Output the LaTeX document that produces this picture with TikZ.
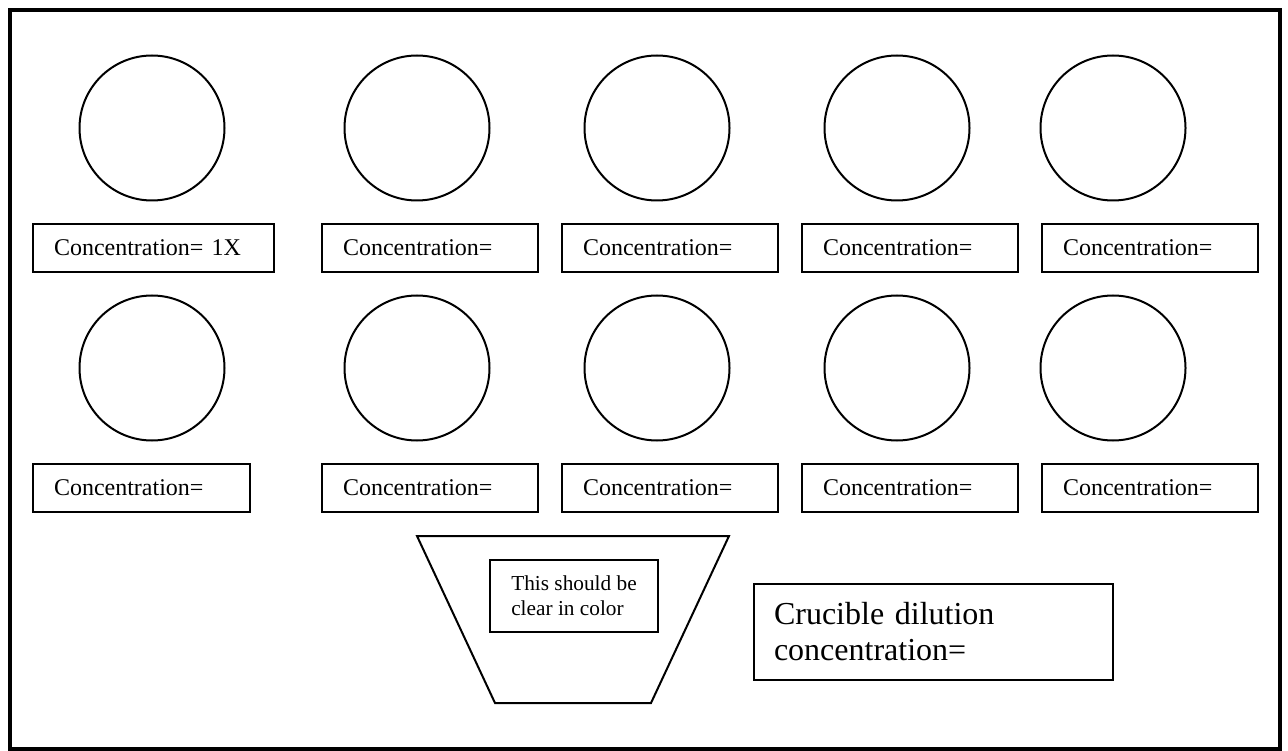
\documentclass[tikz,border=0pt]{standalone}
\usepackage{fontspec}
\setmainfont{Liberation Serif}
\usetikzlibrary{positioning}

\tikzset{
  dish/.style={draw, circle, line width=2pt, minimum size=145pt, inner sep=0pt},
  conc/.style={draw, line width=2pt, minimum height=48pt, inner xsep=21pt,
    text width=#1, align=left, font=\fontsize{24}{28}\selectfont},
  conc/.default=174pt
}

\begin{document}
\begin{tikzpicture}[x=1pt,y=-1pt]
      \useasboundingbox (0,0) rectangle (1288,751);
      \draw[line width=4pt] (10,10) rectangle (1280,749);

      % dishes
      \node[dish] (1) at (152,128) {};
      \node[dish] (2) at (417,128) {};
      \node[dish] (3) at (657,128) {};
      \node[dish] (4) at (897,128) {};
      \node[dish] (5) at (1113,128) {};
      \node[dish] (6) at (152,368) {};
      \node[dish] (7) at (417,368) {};
      \node[dish] (8) at (657,368) {};
      \node[dish] (9) at (897,368) {};
      \node[dish] (10) at (1113,368) {};

      % labels
      \node[conc=199pt,anchor=west] (l1) at (32,248) {Concentration= 1X};
      \node[conc,anchor=west] (l2) at (321,248) {Concentration=};
      \node[conc,anchor=west] (l3) at (561,248) {Concentration=};
      \node[conc,anchor=west] (l4) at (801,248) {Concentration=};
      \node[conc,anchor=west] (l5) at (1041,248) {Concentration=};
      \node[conc=175pt,anchor=west] (l6) at (32,488) {Concentration=};
      \node[conc,anchor=west] (l7) at (321,488) {Concentration=};
      \node[conc,anchor=west] (l8) at (561,488) {Concentration=};
      \node[conc,anchor=west] (l9) at (801,488) {Concentration=};
      \node[conc,anchor=west] (l10) at (1041,488) {Concentration=};

      % crucible
      \draw[line width=2pt] (417,536) -- (729,536) -- (651,703) -- (495,703) -- cycle;
      \node[draw,line width=2pt,anchor=west,minimum height=72pt,minimum width=168pt,
        align=left,font=\fontsize{21.3}{25}\selectfont]
        (note) at (489,596) {This should be\\clear in color};
      \node[draw,line width=2pt,anchor=west,minimum height=96pt,inner xsep=20pt,
        text width=319pt,align=left,font=\fontsize{32}{36}\selectfont]
        (dil) at (753,632) {Crucible dilution\\concentration=};
    \end{tikzpicture}
\end{document}
